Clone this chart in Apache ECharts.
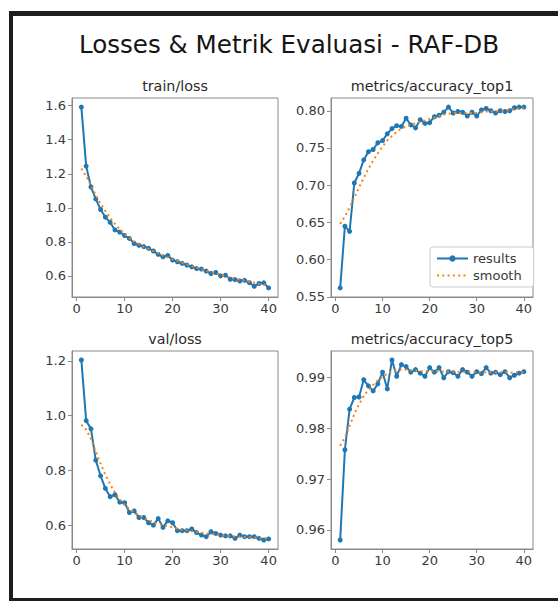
<!DOCTYPE html>
<html>
<head>
<meta charset="utf-8">
<script src="https://cdn.jsdelivr.net/npm/echarts@6/dist/echarts.min.js"></script>
<style>
html, body { margin: 0; padding: 0; background: #fff; }
#chart { width: 558px; height: 601px; }
</style>
</head>
<body>
<div id="chart"></div>
<script>
// epochs 1..40
const epochs = [1,2,3,4,5,6,7,8,9,10,11,12,13,14,15,16,17,18,19,20,
                21,22,23,24,25,26,27,28,29,30,31,32,33,34,35,36,37,38,39,40];

// train/loss
const trainLoss = [1.592,1.245,1.122,1.052,0.99,0.945,0.914,0.87,0.857,0.837,
                   0.82,0.79,0.78,0.772,0.762,0.746,0.726,0.712,0.72,0.693,
                   0.683,0.673,0.663,0.653,0.643,0.64,0.628,0.614,0.62,0.60,
                   0.604,0.58,0.578,0.57,0.574,0.56,0.539,0.555,0.559,0.529];
const trainLossSmooth = [1.231,1.185,1.13,1.075,1.025,0.98,0.94,0.905,0.873,0.846,
                         0.823,0.803,0.786,0.771,0.758,0.745,0.732,0.72,0.709,0.698,
                         0.687,0.677,0.667,0.657,0.648,0.639,0.63,0.622,0.614,0.606,
                         0.598,0.591,0.584,0.577,0.571,0.565,0.559,0.553,0.548,0.543];

// metrics/accuracy_top1
const top1 = [0.562,0.645,0.638,0.703,0.716,0.734,0.745,0.748,0.757,0.76,
              0.769,0.776,0.78,0.779,0.79,0.781,0.777,0.788,0.783,0.784,
              0.792,0.794,0.798,0.805,0.797,0.799,0.798,0.793,0.798,0.793,
              0.801,0.803,0.80,0.797,0.80,0.799,0.80,0.804,0.805,0.805];
const top1Smooth = [0.648,0.658,0.67,0.683,0.697,0.71,0.722,0.733,0.743,0.752,
                    0.76,0.766,0.772,0.776,0.779,0.781,0.783,0.785,0.787,0.789,
                    0.791,0.793,0.795,0.796,0.797,0.797,0.797,0.797,0.797,0.797,
                    0.798,0.799,0.799,0.799,0.80,0.80,0.801,0.802,0.803,0.804];

// val/loss
const valLoss = [1.203,0.982,0.952,0.838,0.781,0.735,0.705,0.712,0.685,0.683,
                 0.647,0.653,0.629,0.629,0.61,0.601,0.625,0.593,0.617,0.61,
                 0.581,0.581,0.581,0.587,0.574,0.565,0.559,0.577,0.571,0.565,
                 0.562,0.562,0.553,0.565,0.559,0.559,0.559,0.553,0.547,0.551];
const valLossSmooth = [0.967,0.95,0.915,0.87,0.825,0.785,0.75,0.72,0.695,0.675,
                       0.66,0.648,0.637,0.627,0.619,0.612,0.606,0.601,0.597,0.593,
                       0.589,0.585,0.582,0.579,0.576,0.573,0.571,0.569,0.567,0.565,
                       0.563,0.561,0.56,0.559,0.558,0.557,0.556,0.555,0.554,0.553];

// metrics/accuracy_top5
const top5 = [0.958,0.9758,0.9838,0.9861,0.9862,0.9896,0.9884,0.9874,0.9888,0.9911,
              0.9878,0.9935,0.9903,0.9926,0.9922,0.9911,0.9916,0.9909,0.9903,0.992,
              0.9911,0.992,0.99,0.9912,0.991,0.9903,0.9916,0.9911,0.9903,0.9912,
              0.9908,0.992,0.9909,0.9911,0.9906,0.9912,0.99,0.9905,0.9909,0.9912];
const top5Smooth = [0.9766,0.9782,0.9805,0.9828,0.9848,0.9864,0.9876,0.9886,0.9895,0.9902,
                    0.9908,0.9912,0.9915,0.9916,0.9916,0.9915,0.9914,0.9913,0.9913,0.9913,
                    0.9913,0.9913,0.9912,0.9912,0.9912,0.9912,0.9912,0.9912,0.9912,0.9911,
                    0.9911,0.9911,0.9911,0.9911,0.9911,0.9911,0.991,0.991,0.9911,0.9911];

// tick labels
const xTicks = [0, 10, 20, 30, 40];
const trainLossTicks = [0.6, 0.8, 1.0, 1.2, 1.4, 1.6];
const top1Ticks = [0.55, 0.60, 0.65, 0.70, 0.75, 0.80];
const valLossTicks = [0.6, 0.8, 1.0, 1.2];
const top5Ticks = [0.96, 0.97, 0.98, 0.99];

const BLUE = '#1f77b4';
const ORANGE = '#ff7f0e';
const FRAME = '#8a8a8a';
const TXT = '#3a3a3a';
const FONT = 'DejaVu Sans';

const panels = [
  { title: 'train/loss', y: trainLoss, s: trainLossSmooth, ticks: trainLossTicks, dig: 1,
    box: { left: 72, top: 98, width: 206, height: 199 } },
  { title: 'metrics/accuracy_top1', y: top1, s: top1Smooth, ticks: top1Ticks, dig: 2,
    box: { left: 331, top: 98, width: 202, height: 199 } },
  { title: 'val/loss', y: valLoss, s: valLossSmooth, ticks: valLossTicks, dig: 1,
    box: { left: 72, top: 351, width: 206, height: 198 } },
  { title: 'metrics/accuracy_top5', y: top5, s: top5Smooth, ticks: top5Ticks, dig: 2,
    box: { left: 331, top: 351, width: 202, height: 198 } }
];

// matplotlib style 5% margins
function limits(a, b) {
  const all = a.concat(b);
  const lo = Math.min.apply(null, all), hi = Math.max.apply(null, all);
  const m = (hi - lo) * 0.05;
  return [lo - m, hi + m];
}
const xLo = epochs[0] - (epochs[epochs.length - 1] - epochs[0]) * 0.05;
const xHi = epochs[epochs.length - 1] + (epochs[epochs.length - 1] - epochs[0]) * 0.05;

const grid = [], xAxis = [], yAxis = [], series = [], graphic = [];

panels.forEach(function (p, i) {
  grid.push(Object.assign({ show: true, borderColor: FRAME, borderWidth: 1, backgroundColor: '#fff' }, p.box));
  const lim = limits(p.y, p.s);
  xAxis.push({
    type: 'value', gridIndex: i, min: xLo, max: xHi,
    axisLine: { show: true, onZero: false, lineStyle: { color: FRAME, width: 1 } },
    axisTick: { show: true, length: 4, lineStyle: { color: FRAME }, customValues: xTicks },
    axisLabel: { customValues: xTicks, color: TXT, fontSize: 13, fontFamily: FONT, margin: 5 },
    splitLine: { show: false }
  });
  yAxis.push({
    type: 'value', gridIndex: i, min: lim[0], max: lim[1],
    axisLine: { show: true, onZero: false, lineStyle: { color: FRAME, width: 1 } },
    axisTick: { show: true, length: 4, lineStyle: { color: FRAME }, customValues: p.ticks },
    axisLabel: {
      customValues: p.ticks, color: TXT, fontSize: 13, fontFamily: FONT, margin: 6,
      formatter: function (v) { return v.toFixed(p.dig); }
    },
    splitLine: { show: false }
  });
  series.push({
    name: 'results', type: 'line', xAxisIndex: i, yAxisIndex: i,
    data: epochs.map(function (e, k) { return [e, p.y[k]]; }),
    symbol: 'circle', symbolSize: 5, showSymbol: true,
    lineStyle: { color: BLUE, width: 2 }, itemStyle: { color: BLUE },
    z: 2
  });
  series.push({
    name: 'smooth', type: 'line', xAxisIndex: i, yAxisIndex: i,
    data: epochs.map(function (e, k) { return [e, p.s[k]]; }),
    symbol: 'none',
    lineStyle: { color: ORANGE, width: 2, type: [2, 3.3] }, itemStyle: { color: ORANGE },
    z: 3
  });
  graphic.push({
    type: 'text', x: p.box.left + p.box.width / 2, y: p.box.top - 12,
    style: { text: p.title, fontSize: 14.3, fontFamily: FONT, fill: '#2a2a2a', align: 'center', verticalAlign: 'middle' }
  });
});

// figure title and screenshot frame
graphic.push({
  type: 'text', x: 289, y: 44,
  style: { text: 'Losses & Metrik Evaluasi - RAF-DB', fontSize: 24.6, fontFamily: FONT, fill: '#151515', align: 'center', verticalAlign: 'middle' }
});
graphic.push({ type: 'rect', shape: { x: 9, y: 11, width: 549, height: 5 }, style: { fill: '#1e1e1e' }, z: 10 });
graphic.push({ type: 'rect', shape: { x: 9, y: 11, width: 4, height: 590 }, style: { fill: '#1e1e1e' }, z: 10 });
graphic.push({ type: 'rect', shape: { x: 9, y: 598, width: 549, height: 3 }, style: { fill: '#1e1e1e' }, z: 10 });

const chart = echarts.init(document.getElementById('chart'), null, { renderer: 'svg' });
chart.setOption({
  animation: false,
  backgroundColor: '#fff',
  textStyle: { fontFamily: FONT },
  grid: grid,
  xAxis: xAxis,
  yAxis: yAxis,
  series: series,
  graphic: graphic,
  legend: {
    data: ['results', { name: 'smooth', itemStyle: { opacity: 0 } }],
    orient: 'vertical', left: 430, top: 247,
    padding: [5, 12, 5, 6], itemGap: 4, itemWidth: 31, itemHeight: 8,
    backgroundColor: '#fff', borderColor: '#cccccc', borderWidth: 1, borderRadius: 3,
    textStyle: { color: TXT, fontSize: 13, fontFamily: FONT },
    selectedMode: false
  }
});
</script>
</body>
</html>
